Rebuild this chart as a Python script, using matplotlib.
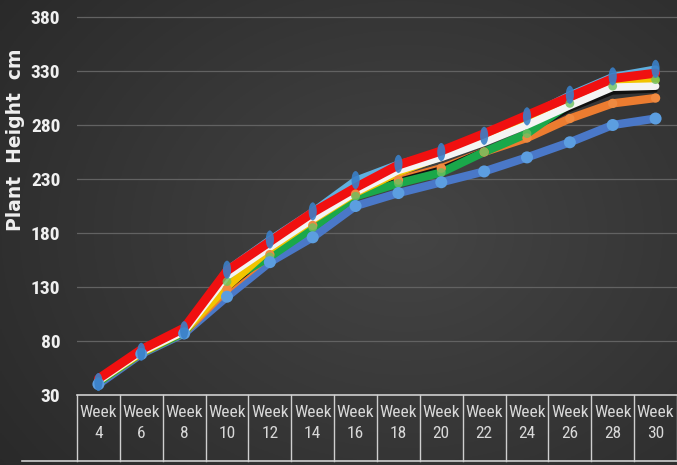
import numpy as np
import matplotlib
matplotlib.use('Agg')
import matplotlib.pyplot as plt
from matplotlib import font_manager
from matplotlib.path import Path
from matplotlib.transforms import Affine2D, blended_transform_factory

weeks = [4, 6, 8, 10, 12, 14, 16, 18, 20, 22, 24, 26, 28, 30]
week_labels = [f"Week\n{w}" for w in weeks]
y_ticks = [30, 80, 130, 180, 230, 280, 330, 380]

# plant height (cm) per treatment
h_top = [42, 70, 90, 146, 174, 200, 229, 244, 255, 270, 288, 308, 325, 332]
h_red = [45, 72, 92, 145, 172, 199, 222, 243, 256, 272, 289, 306, 323, 328]
h_white = [43, 70, 89, 140, 167, 193, 218, 238, 250, 264, 280, 298, 315, 316]
h_yellow = [43, 69, 89, 130, 165, 192, 217, 236, 251, 267, 283, 300, 317, 321]
h_green = [42, 69, 88, 135, 158, 185, 214, 226, 236, 255, 272, 300, 316, 322]
h_black = [42, 69, 88, 128, 160, 187, 216, 229, 240, 257, 273, 294, 310, 312]
h_orange = [42, 69, 88, 128, 160, 187, 216, 229, 240, 255, 268, 286, 300, 305]
h_blue = [40, 68, 87, 121, 153, 176, 205, 217, 227, 237, 250, 264, 280, 286]

# pick a narrow face if one is around, else plain Liberation Sans
installed = {f.name for f in font_manager.fontManager.ttflist}
narrow_faces = ['Liberation Sans Narrow', 'Roboto Condensed', 'Open Sans Condensed',
                'Noto Sans Condensed', 'DejaVu Sans Condensed', 'Arial Narrow']
narrow = next((n for n in narrow_faces if n in installed), None)
if narrow:
    label_font, tick_size, week_size = narrow, 14, 12.5
else:
    label_font, tick_size, week_size = 'Liberation Sans', 11.5, 9.5

W, H = 677, 465
fig = plt.figure(figsize=(W / 100, H / 100), dpi=100)

# dark radial background
bg = fig.add_axes([0, 0, 1, 1])
yy, xx = np.mgrid[0:1:200j, 0:1:300j]
r = np.sqrt(((xx - 0.6) / 0.7) ** 2 + ((yy - 0.5) / 0.8) ** 2)
shade = np.clip(0.27 - 0.1 * r, 0.16, 0.28)
bg.imshow(np.dstack([shade] * 3), extent=[0, 1, 0, 1], aspect='auto')
bg.set_axis_off()

ax = fig.add_axes([77 / W, 1 - 395 / H, 600 / W, 395 / H])
ax.patch.set_alpha(0)
x = np.arange(len(weeks))

ax.plot(x, h_top, color='#5fb0e0', lw=5, zorder=2, solid_capstyle='round')
series = [
    (h_blue, '#4a78c8', 6),
    (h_orange, '#ec7c30', 6),
    (h_black, '#111111', 3),
    (h_green, '#1aa84a', 6),
    (h_yellow, '#f2c400', 5.5),
    (h_white, '#f4f4f4', 5.5),
    (h_red, '#f01010', 6.5),
]
for i, (vals, col, lw) in enumerate(series):
    ax.plot(x, vals, color=col, lw=lw, zorder=3 + i, solid_capstyle='round')

# markers
ellipse = Path.unit_circle().transformed(Affine2D().scale(0.45, 1.0))
ax.scatter(x, h_blue, s=75, color='#5c9ee0', zorder=12, edgecolors='none')
ax.scatter(x, h_orange, s=45, color='#f08a40', zorder=11, edgecolors='none')
ax.scatter(x, h_green, s=40, color='#6cc060', alpha=0.8, zorder=11, edgecolors='none')
ax.scatter(x, h_top, s=170, marker=ellipse, color='#3a80c8', zorder=13,
           edgecolors='none', alpha=0.9)

ax.set_xlim(-0.5, len(weeks) - 0.5)
ax.set_ylim(30, 30 + 395 / 54 * 50)
ax.set_yticks(y_ticks)
ax.set_yticklabels([str(t) for t in y_ticks], color='#f0f0f0', fontsize=tick_size,
                   fontweight='bold', family=label_font)
ax.tick_params(axis='y', length=0, pad=12)
ax.grid(axis='y', color='#626262', lw=0.9)
ax.set_axisbelow(True)
for s in ax.spines.values():
    s.set_visible(False)

# category table under the plot
ax.set_xticks(x)
ax.set_xticklabels(week_labels, color='#d8d8d8', fontsize=week_size,
                   family=label_font, linespacing=1.5)
ax.tick_params(axis='x', length=0, pad=7)
tr = blended_transform_factory(ax.transData, ax.transAxes)
tb = -66 / 395
ax.plot([-0.5, len(weeks) - 0.5], [0, 0], transform=tr, color='#cfcfcf', lw=1.2,
        clip_on=False)
ax.plot([-1.78, len(weeks) - 0.5], [tb, tb], transform=tr, color='#cfcfcf', lw=1.2,
        clip_on=False)
for b in np.arange(-0.5, len(weeks), 1.0):
    ax.plot([b, b], [0, tb], transform=tr, color='#cfcfcf', lw=1.0, clip_on=False)

fig.text(16 / W, 1 - 140 / H, 'Plant  Height  cm', rotation=90, color='#f0f0f0',
         fontsize=13.5, fontweight='bold', ha='center', va='center')

fig.savefig('out.png', dpi=100)
